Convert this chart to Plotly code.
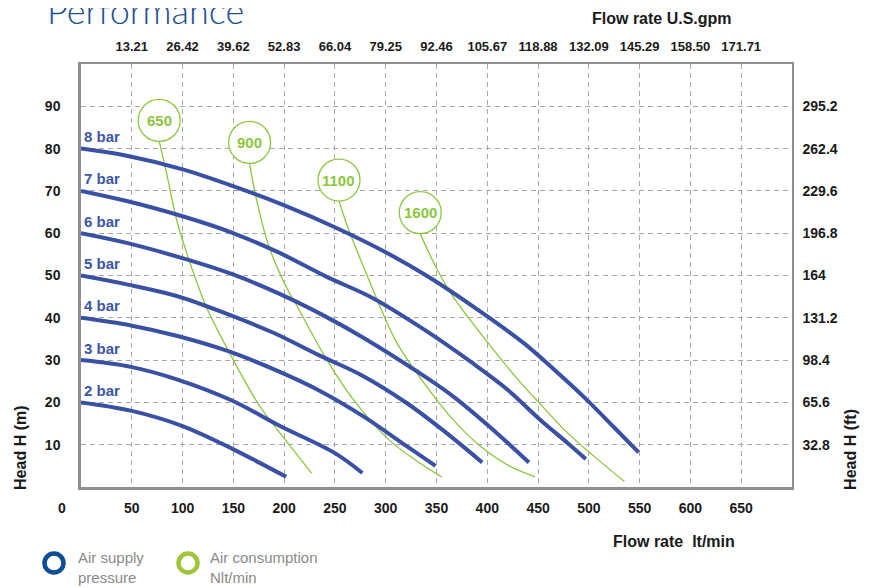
import plotly.graph_objects as go

# ---------------- data ----------------
bar_labels = ["2 bar", "3 bar", "4 bar", "5 bar", "6 bar", "7 bar", "8 bar"]
bar2_q = [0, 50, 100, 150, 176, 202]
bar2_h = [20, 18, 14.4, 8.9, 5.7, 2.4]
bar3_q = [0, 49, 95, 148, 197, 250, 277]
bar3_h = [30, 28.4, 25.4, 20.5, 14.3, 8, 3.3]
bar4_q = [0, 49, 95, 145, 194, 233, 278, 321, 349]
bar4_h = [40, 38.2, 35.7, 32.1, 27.4, 23, 16.7, 9.6, 5]
bar5_q = [0, 45, 95, 145, 190, 233, 278, 321, 356, 395]
bar5_h = [50, 47.9, 45.1, 40.8, 36.4, 31.3, 26.2, 19.8, 13.5, 5.8]
bar6_q = [0, 45, 104, 149, 195, 240, 278, 331, 366, 402, 441]
bar6_h = [60, 57.7, 53.8, 50.3, 45.7, 40.4, 35.3, 27.3, 21.5, 14.3, 5.8]
bar7_q = [0, 45, 100, 149, 195, 241, 287, 338, 386, 420, 452, 479, 497]
bar7_h = [70, 67.6, 64, 60.1, 55.4, 49.8, 44.7, 37.2, 29.2, 23, 15.9, 10.4, 6.6]
bar8_q = [0, 45, 100, 149, 202, 251, 300, 344, 393, 436, 466, 498, 524, 549]
bar8_h = [80, 78.3, 75.1, 71.2, 66.4, 61.3, 55.5, 49.4, 41.5, 34, 27.7, 20.6, 14.3, 8.2]

air_labels = ["650", "900", "1100", "1600"]
a650_q = [77, 84, 94, 104, 113, 123, 148, 176, 201, 227]
a650_h = [81.7, 74.5, 63.3, 55.4, 49.1, 42.8, 30.9, 19.1, 11.2, 3.3]
a900_q = [166, 172, 185, 205, 211, 240, 268, 303, 331, 355]
a900_h = [76.5, 68.8, 56.9, 45.9, 43.5, 30.9, 20.7, 11.2, 6.1, 2.4]
a1100_q = [254, 264, 280, 292, 310, 338, 366, 394, 420, 447]
a1100_h = [67.6, 60.5, 51, 44, 34.5, 24.5, 16, 9.5, 5.2, 2.4]
a1600_q = [334, 349, 365, 401, 433, 448, 479, 505, 535]
a1600_h = [59.9, 52.2, 45.5, 34.0, 24.6, 20.7, 12.8, 7.3, 1.3]

q_ticks = [50, 100, 150, 200, 250, 300, 350, 400, 450, 500, 550, 600, 650]
gpm_labels = ["13.21", "26.42", "39.62", "52.83", "66.04", "79.25", "92.46",
              "105.67", "118.88", "132.09", "145.29", "158.50", "171.71"]
h_ticks = [10, 20, 30, 40, 50, 60, 70, 80, 90]
ft_labels = ["32.8", "65.6", "98.4", "131.2", "164", "196.8", "229.6", "262.4", "295.2"]

# ---------------- styles ----------------
BLUE = "#3a51a3"
BLUE_TXT = "#3d56a6"
GREEN = "#8cc63f"
GRID = "#a8a8a8"
AXIS = "#8e8e8e"
TICKFONT = dict(family="Liberation Sans, Arial", size=14, color="#1a1a1a", weight="bold")

bars = [(bar2_q, bar2_h), (bar3_q, bar3_h), (bar4_q, bar4_h), (bar5_q, bar5_h),
        (bar6_q, bar6_h), (bar7_q, bar7_h), (bar8_q, bar8_h)]
airs = [(a650_q, a650_h), (a900_q, a900_h), (a1100_q, a1100_h), (a1600_q, a1600_h)]

fig = go.Figure()

for (q, h) in airs:
    fig.add_trace(go.Scatter(x=q, y=h, mode="lines", line=dict(color=GREEN, width=1.3, shape="spline"),
                             hoverinfo="skip", showlegend=False))
for (q, h) in bars:
    fig.add_trace(go.Scatter(x=q, y=h, mode="lines", line=dict(color=BLUE, width=4, shape="spline"),
                             hoverinfo="skip", showlegend=False))

# invisible trace to activate secondary axes
fig.add_trace(go.Scatter(x=[0], y=[0], xaxis="x2", yaxis="y2", mode="markers",
                         marker=dict(opacity=0), hoverinfo="skip", showlegend=False))

annotations = []
shapes = []

# bar labels above start of each curve
for lab, (q, h) in zip(bar_labels, bars):
    annotations.append(dict(x=q[0], y=h[0], xref="x", yref="y", text=lab, showarrow=False,
                            xanchor="left", yanchor="middle", xshift=1, yshift=12,
                            font=dict(family="Liberation Sans, Arial", size=15, color=BLUE_TXT, weight="bold")))

# air consumption circles anchored at start of green curves
for lab, (q, h) in zip(air_labels, airs):
    shapes.append(dict(type="circle", xref="x", yref="y", xsizemode="pixel", ysizemode="pixel",
                       xanchor=q[0], yanchor=h[0], x0=-21, x1=21, y0=0, y1=42,
                       line=dict(color=GREEN, width=1.3), fillcolor="white", layer="above"))
    annotations.append(dict(x=q[0], y=h[0], xref="x", yref="y", text=lab, showarrow=False,
                            xanchor="center", yanchor="middle", yshift=21,
                            font=dict(family="Liberation Sans, Arial", size=15, color=GREEN, weight="bold")))

# "0" label offset left of axis
annotations.append(dict(x=0, y=-0.05, xref="x", yref="paper", text="0", showarrow=False,
                        xanchor="center", yanchor="middle", xshift=-19, font=TICKFONT))

# titles
annotations += [
    dict(x=-0.05, y=1.128, xref="paper", yref="paper", text="Performance", showarrow=False,
         xanchor="left", yanchor="middle",
         font=dict(family="Lato, Open Sans", size=36, color="#1f4f92", weight=300)),
    dict(x=0.817, y=1.108, xref="paper", yref="paper", text="Flow rate U.S.gpm", showarrow=False,
         xanchor="center", yanchor="middle",
         font=dict(family="Liberation Sans, Arial", size=16, color="#1a1a1a", weight="bold")),
    dict(x=0.834, y=-0.128, xref="paper", yref="paper", text="Flow rate  lt/min", showarrow=False,
         xanchor="center", yanchor="middle",
         font=dict(family="Liberation Sans, Arial", size=16, color="#1a1a1a", weight="bold")),
    dict(x=-0.086, y=-0.012, xref="paper", yref="paper", text="Head H (m)", showarrow=False,
         textangle=-90, xanchor="center", yanchor="bottom",
         font=dict(family="Liberation Sans, Arial", size=16, color="#1a1a1a", weight="bold")),
    dict(x=1.082, y=-0.012, xref="paper", yref="paper", text="Head H (ft)", showarrow=False,
         textangle=-90, xanchor="center", yanchor="bottom",
         font=dict(family="Liberation Sans, Arial", size=16, color="#1a1a1a", weight="bold")),
    dict(x=-0.0065, y=-0.19, xref="paper", yref="paper", text="Air supply<br>pressure", showarrow=False,
         xanchor="left", yanchor="middle", align="left",
         font=dict(family="Liberation Sans Narrow, Liberation Sans", size=15, color="#8a8a8a")),
    dict(x=0.179, y=-0.19, xref="paper", yref="paper", text="Air consumption<br>Nlt/min", showarrow=False,
         xanchor="left", yanchor="middle", align="left",
         font=dict(family="Liberation Sans Narrow, Liberation Sans", size=15, color="#8a8a8a")),
]

# legend rings
for xc, col in [(-0.038, "#0c4d93"), (0.1505, "#a2c43a")]:
    shapes.append(dict(type="circle", xref="paper", yref="paper", xsizemode="pixel", ysizemode="pixel",
                       xanchor=xc, yanchor=-0.1797, x0=-9.5, x1=9.5, y0=-9.5, y1=9.5,
                       line=dict(color=col, width=4.5), fillcolor="rgba(0,0,0,0)"))

fig.update_layout(
    width=874, height=588,
    margin=dict(l=73, r=90, t=56, b=109),
    paper_bgcolor="white", plot_bgcolor="white",
    annotations=annotations, shapes=shapes,
    xaxis=dict(range=[0, 700], tickvals=q_ticks, showgrid=True, gridcolor=GRID, griddash="5px,4px",
               gridwidth=1, zeroline=False, showline=True, linecolor=AXIS, linewidth=2.5,
               ticks="", ticklabelstandoff=6, tickfont=TICKFONT),
    yaxis=dict(range=[0, 100], tickvals=h_ticks, showgrid=True, gridcolor=GRID, griddash="5px,4px",
               gridwidth=1, zeroline=False, showline=True, linecolor=AXIS, linewidth=2.5,
               ticks="", ticklabelstandoff=15, tickfont=TICKFONT),
    xaxis2=dict(range=[0, 700], overlaying="x", side="top", anchor="y", tickvals=q_ticks,
                ticktext=gpm_labels, showgrid=False, zeroline=False, showline=True,
                linecolor=AXIS, linewidth=1.5, ticks="", ticklabelstandoff=6,
                tickfont=dict(family="Liberation Sans, Arial", size=13, color="#1a1a1a", weight="bold")),
    yaxis2=dict(range=[0, 100], overlaying="y", side="right", anchor="x", tickvals=h_ticks,
                ticktext=ft_labels, showgrid=False, zeroline=False, showline=True,
                linecolor=AXIS, linewidth=1.5, ticks="", ticklabelstandoff=6, tickfont=TICKFONT),
)

fig.write_html("out.html")
